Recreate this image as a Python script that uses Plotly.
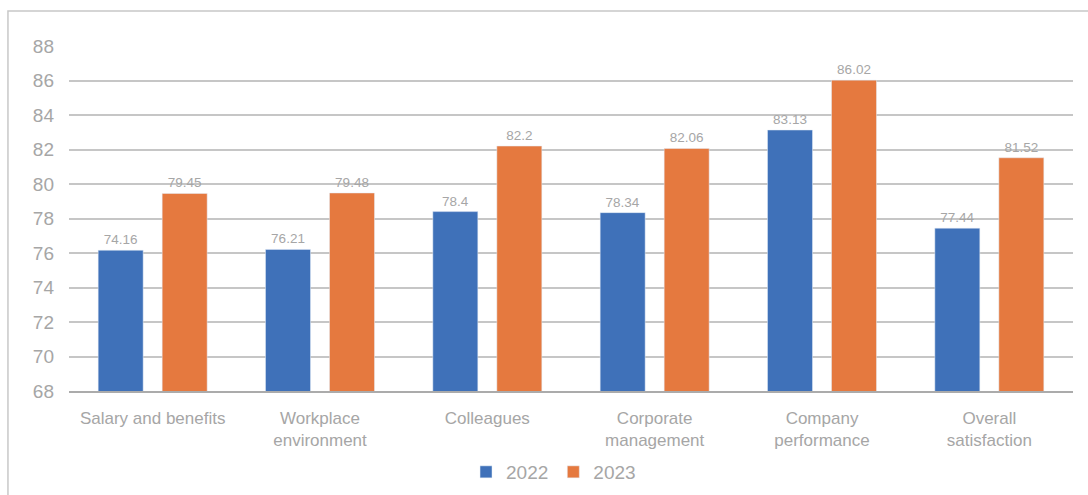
import plotly.graph_objects as go

categories = ["Salary and benefits", "Workplace<br>environment", "Colleagues",
              "Corporate<br>management", "Company<br>performance", "Overall<br>satisfaction"]
values_2022 = [76.16, 76.21, 78.4, 78.34, 83.13, 77.44]
labels_2022 = ["74.16", "76.21", "78.4", "78.34", "83.13", "77.44"]
values_2023 = [79.45, 79.48, 82.2, 82.06, 86.02, 81.52]
labels_2023 = ["79.45", "79.48", "82.2", "82.06", "86.02", "81.52"]
y_ticks = [68, 70, 72, 74, 76, 78, 80, 82, 84, 86, 88]

BLUE = "#3F71B9"
ORANGE = "#E5793F"
GREY_TXT = "#A6A6A6"
FONT = "Liberation Sans, Arial, sans-serif"

fig = go.Figure()
fig.add_trace(go.Bar(name="2022", x=categories, y=values_2022, text=labels_2022,
                     textposition="outside", marker_color=BLUE, cliponaxis=False,
                     textfont=dict(color=GREY_TXT, size=13.5, family=FONT)))
fig.add_trace(go.Bar(name="2023", x=categories, y=values_2023, text=labels_2023,
                     textposition="outside", marker_color=ORANGE, cliponaxis=False,
                     textfont=dict(color=GREY_TXT, size=13.5, family=FONT)))

fig.update_layout(
    width=1088, height=495,
    margin=dict(l=69, r=15, t=46, b=104, autoexpand=False),
    paper_bgcolor="white", plot_bgcolor="white",
    barmode="group", bargap=0.235, bargroupgap=0.297,
    font=dict(family=FONT, color=GREY_TXT),
    showlegend=True,
    legend=dict(orientation="h", x=0.4826, xanchor="center", xref="paper",
                y=(495 - 472) / 495, yanchor="middle", yref="container",
                font=dict(size=19, color=GREY_TXT, family=FONT),
                itemwidth=30, traceorder="normal"),
    uniformtext=dict(minsize=13, mode="show"),
)
fig.update_yaxes(range=[68, 88], tickvals=y_ticks, showgrid=True,
                 gridcolor="#C6C6C6", gridwidth=1.5, zeroline=False,
                 tickfont=dict(size=19, color=GREY_TXT, family=FONT),
                 ticks="", ticklabelstandoff=14, fixedrange=True, automargin=False)
fig.update_xaxes(showline=True, linecolor="#ABABAB", linewidth=1.5,
                 tickfont=dict(size=17, color=GREY_TXT, family=FONT),
                 ticks="", ticklabelstandoff=11, automargin=False)

# outer chart border (cropped on right/bottom in the reference)
fig.add_shape(type="rect", xref="paper", yref="paper",
              x0=-0.0608, x1=1.2, y0=-0.6, y1=1.1014,
              line=dict(color="#C8C8C8", width=1.5), fillcolor="rgba(0,0,0,0)",
              layer="below")

fig.write_html("out.html")
